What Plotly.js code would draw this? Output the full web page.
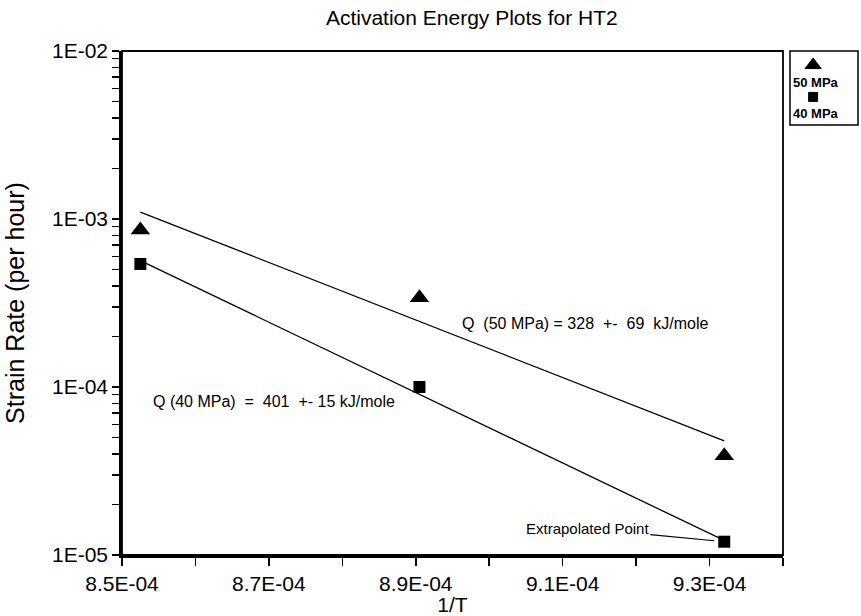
<!DOCTYPE html>
<html>
<head>
<meta charset="utf-8">
<script src="https://cdn.plot.ly/plotly-3.0.1.min.js"></script>
<style>
  html, body { margin: 0; padding: 0; background: #ffffff; }
  #chart { width: 861px; height: 616px; }
</style>
</head>
<body>
<div id="chart"></div>
<script>
// Reciprocal test temperature (1/K) for the three creep tests
const invT = [8.525e-4, 8.905e-4, 9.32e-4];

// Measured creep strain rates (per hour)
const rate50 = [8.6e-4, 3.4e-4, 3.9e-5];
const rate40 = [5.4e-4, 1.0e-4, 1.2e-5];

// Activation energies (kJ/mole) quoted on the chart
const q50 = 328;
const q40 = 401;

// Arrhenius fit lines: span in 1/T and rate at the first end
const fitX = [8.525e-4, 9.32e-4];
const fitStart50 = 1.1e-3;
const fitStart40 = 5.65e-4;

// Axis tick labels
const xTickVals = [8.5e-4, 8.7e-4, 8.9e-4, 9.1e-4, 9.3e-4];
const xTickText = ['8.5E-04', '8.7E-04', '8.9E-04', '9.1E-04', '9.3E-04'];
const yTickVals = [1e-5, 1e-4, 1e-3, 1e-2];
const yTickText = ['1E-05', '1E-04', '1E-03', '1E-02'];

// Key entries
const keyLabels = ['50 MPa', '40 MPa'];
const keySymbols = ['triangle-up', 'square'];

// Gas constant, kJ/(mole K)
const R = 8.314e-3;

// Rate along an Arrhenius line with activation energy Q through (fitX[0], start)
function arrheniusLine(start, Q) {
  const decadesPerUnit = Q / (R * Math.LN10);
  return fitX.map(x => start * Math.pow(10, -decadesPerUnit * (x - fitX[0])));
}

// Minor ticks at 2..9 of every decade on the log axis
const yMinor = [];
for (let e = -5; e < -2; e++) {
  for (let m = 2; m <= 9; m++) yMinor.push(m * Math.pow(10, e));
}

const FONT = '"Liberation Sans", Arial, Helvetica, sans-serif';
const BLACK = '#000000';

// Page geometry (px): main plot spans 122..783, key box 790..858
const W = 861, H = 616;
const mL = 122, mR = 3;
const paperW = W - mL - mR;
const plotRight = 783, keyLeft = 790;
const mainDomainX = [0, (plotRight - mL) / paperW];
const keyDomainX = [(keyLeft - mL) / paperW, 1];
const keyDomainY = [0.853, 1];

// Slots inside the key box (key axis units)
const keySymbolX = 0.34, keyTextX = 0.38;
const keySymbolY = [0.81, 0.38];
const keyTextY = [0.58, 0.16];

const traces = [
  {
    x: fitX, y: arrheniusLine(fitStart50, q50),
    type: 'scatter', mode: 'lines', name: '50 MPa fit',
    line: { color: BLACK, width: 1.3 }, hoverinfo: 'skip'
  },
  {
    x: fitX, y: arrheniusLine(fitStart40, q40),
    type: 'scatter', mode: 'lines', name: '40 MPa fit',
    line: { color: BLACK, width: 1.3 }, hoverinfo: 'skip'
  },
  {
    x: invT, y: rate50,
    type: 'scatter', mode: 'markers', name: keyLabels[0],
    marker: { symbol: keySymbols[0], size: 17, color: BLACK }
  },
  {
    x: invT, y: rate40,
    type: 'scatter', mode: 'markers', name: keyLabels[1],
    marker: { symbol: keySymbols[1], size: 12, color: BLACK }
  },
  // key symbols
  {
    x: [keySymbolX, keySymbolX], y: keySymbolY,
    xaxis: 'x2', yaxis: 'y2',
    type: 'scatter', mode: 'markers', name: 'key',
    marker: { symbol: keySymbols, size: [14, 9], color: BLACK, opacity: 1,
              line: { color: BLACK, width: 1 } },
    cliponaxis: false,
    hoverinfo: 'skip'
  }
];

const layout = {
  width: W,
  height: H,
  margin: { l: mL, r: mR, t: 51, b: 61, pad: 0 },
  paper_bgcolor: '#ffffff',
  plot_bgcolor: '#ffffff',
  showlegend: false,
  font: { family: FONT, color: BLACK },
  title: {
    text: 'Activation Energy Plots for HT2',
    font: { family: FONT, size: 21, color: BLACK },
    xref: 'container', x: 0.548, xanchor: 'center',
    yref: 'container', y: 0.971, yanchor: 'middle'
  },
  xaxis: {
    domain: mainDomainX,
    range: [8.5e-4, 9.4e-4],
    tickmode: 'array', tickvals: xTickVals, ticktext: xTickText,
    ticks: 'outside', ticklen: 8, tickwidth: 1.5, tickcolor: BLACK,
    tickfont: { family: FONT, size: 21, color: BLACK },
    minor: { tickmode: 'linear', tick0: 8.5e-4, dtick: 1e-5,
             ticks: 'outside', ticklen: 8, tickwidth: 1.5, tickcolor: BLACK, showgrid: false },
    showline: true, linewidth: 2.8, linecolor: BLACK, mirror: false,
    showgrid: false, zeroline: false,
    title: { text: '1/T', font: { family: FONT, size: 21, color: BLACK }, standoff: 0 }
  },
  yaxis: {
    type: 'log',
    range: [-5, -2],
    tickmode: 'array', tickvals: yTickVals, ticktext: yTickText,
    ticks: 'outside', ticklen: 7, tickwidth: 1.5, tickcolor: BLACK,
    tickfont: { family: FONT, size: 21, color: BLACK },
    minor: { tickmode: 'array', tickvals: yMinor,
             ticks: 'outside', ticklen: 7, tickwidth: 1.5, tickcolor: BLACK, showgrid: false },
    showline: true, linewidth: 2.8, linecolor: BLACK, mirror: false,
    showgrid: false, zeroline: false,
    title: { text: 'Strain Rate (per hour)', font: { family: FONT, size: 25, color: BLACK }, standoff: 21 }
  },
  xaxis2: {
    domain: keyDomainX, range: [0, 1], anchor: 'y2',
    visible: false, fixedrange: true
  },
  yaxis2: {
    domain: keyDomainY, range: [0, 1], anchor: 'x2',
    visible: false, fixedrange: true
  },
  shapes: [
    // thin frame on the top and right of the plot
    { type: 'rect', xref: 'x domain', yref: 'y domain',
      x0: 0, x1: 1, y0: 0, y1: 1,
      line: { color: BLACK, width: 1.8 }, fillcolor: 'rgba(0,0,0,0)', layer: 'below' },
    // key box
    { type: 'rect', xref: 'x2 domain', yref: 'y2 domain',
      x0: 0, x1: 1, y0: 0, y1: 1,
      line: { color: BLACK, width: 1.5 }, fillcolor: 'rgba(0,0,0,0)', layer: 'below' }
  ],
  annotations: [
    { xref: 'x domain', yref: 'y domain', x: 0.7005, y: 0.46,
      text: 'Q  (50 MPa) = 328  +-  69  kJ/mole', showarrow: false,
      xanchor: 'center', yanchor: 'middle',
      font: { family: FONT, size: 16, color: BLACK } },
    { xref: 'x domain', yref: 'y domain', x: 0.2307, y: 0.305,
      text: 'Q (40 MPa)  =  401  +- 15 kJ/mole', showarrow: false,
      xanchor: 'center', yanchor: 'middle',
      font: { family: FONT, size: 16, color: BLACK } },
    { xref: 'x', yref: 'y', x: invT[2], y: Math.log10(rate40[2]),
      text: 'Extrapolated Point', showarrow: true,
      arrowhead: 0, arrowwidth: 1.2, arrowcolor: BLACK, standoff: 10,
      axref: 'pixel', ayref: 'pixel', ax: -137, ay: -13,
      font: { family: FONT, size: 15, color: BLACK } },
    { xref: 'x2', yref: 'y2', x: keyTextX, y: keyTextY[0],
      text: '<b>' + keyLabels[0] + '</b>', showarrow: false,
      xanchor: 'center', yanchor: 'middle',
      font: { family: FONT, size: 13, color: BLACK } },
    { xref: 'x2', yref: 'y2', x: keyTextX, y: keyTextY[1],
      text: '<b>' + keyLabels[1] + '</b>', showarrow: false,
      xanchor: 'center', yanchor: 'middle',
      font: { family: FONT, size: 13, color: BLACK } }
  ]
};

Plotly.newPlot('chart', traces, layout, { staticPlot: true, displayModeBar: false });
</script>
</body>
</html>
